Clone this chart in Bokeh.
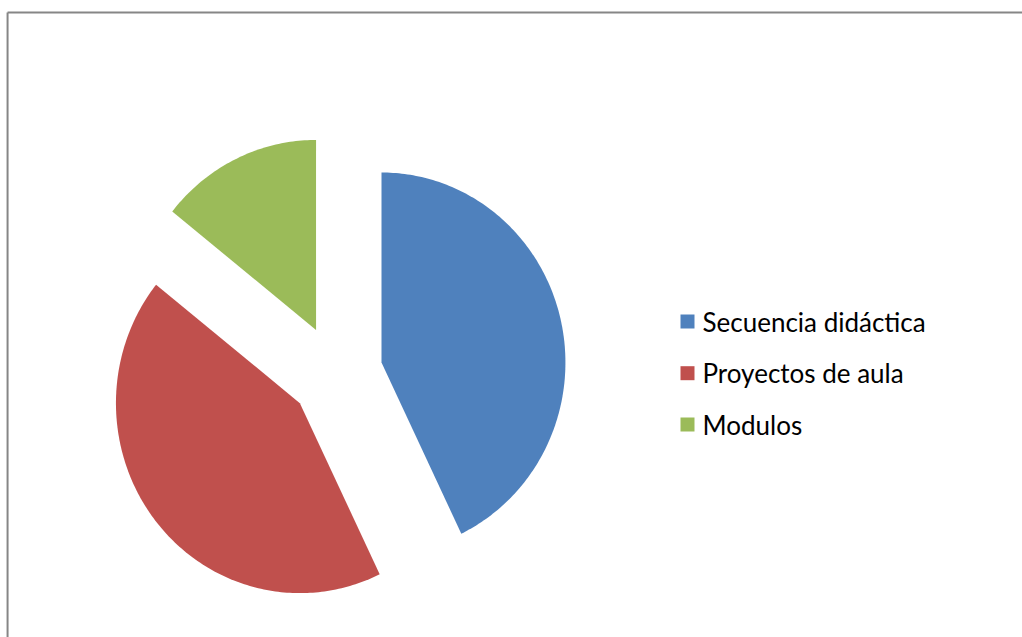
import math
from bokeh.plotting import figure
from bokeh.models import Range1d, ColumnDataSource
from bokeh.core.properties import value
from bokeh.embed import file_html
from bokeh.resources import INLINE

categories = ["Secuencia didáctica", "Proyectos de aula", "Modulos"]
counts = [3, 3, 1]
colors = ["#4F81BD", "#C0504D", "#9BBB59"]

W, H = 1022, 637
SX = 0.968                 # horizontal pixels per data unit (pie is slightly squeezed)
CX, CY = 346.8, 264.3      # pie centre in data units
R = 190
EXPLODE = 48

total = float(sum(counts))
pxs, pys = [], []
cum = 0.0
for v in counts:
    a0 = cum / total * 2 * math.pi
    cum += v
    a1 = cum / total * 2 * math.pi
    mid = (a0 + a1) / 2
    ax = CX + EXPLODE * math.sin(mid)
    ay = CY + EXPLODE * math.cos(mid)
    n = max(8, int((a1 - a0) / (2 * math.pi) * 400))
    xs_ = [ax]
    ys_ = [ay]
    for i in range(n + 1):
        t = a0 + (a1 - a0) * i / n
        xs_.append(ax + R * math.sin(t))
        ys_.append(ay + R * math.cos(t))
    pxs.append(xs_)
    pys.append(ys_)

src = ColumnDataSource(dict(xs=pxs, ys=pys, color=colors, cat=categories))

p = figure(width=W, height=H, output_backend="svg", toolbar_location=None,
           x_range=Range1d(0, W / SX), y_range=Range1d(0, H),
           x_axis_type=None, y_axis_type=None, min_border=0)
p.grid.visible = False
p.outline_line_color = None
p.background_fill_color = "white"
p.border_fill_color = "white"

p.patches(xs="xs", ys="ys", fill_color="color", line_color=None, source=src)

# chart-area border (only top/left visible in the reference)
p.segment(x0=[7.3, 7.3], y0=[0, 625], x1=[7.3, W / SX], y1=[625, 625],
          line_color="#868686", line_width=2)

# legend
leg_y = [316.0, 264.3, 213.0]
lsrc = ColumnDataSource(dict(x=[687.0 / SX] * 3, tx=[702.0 / SX] * 3, y=leg_y,
                             color=colors, cat=categories))
p.scatter(x="x", y="y", marker="square", size=14, fill_color="color", line_color=None, source=lsrc)
p.text(x="tx", y="y", text="cat", text_font=value("Lato"), text_font_size="26px",
       text_baseline="middle", text_align="left", text_color="#000000", source=lsrc)

open("out.html", "w").write(file_html(p, INLINE))
